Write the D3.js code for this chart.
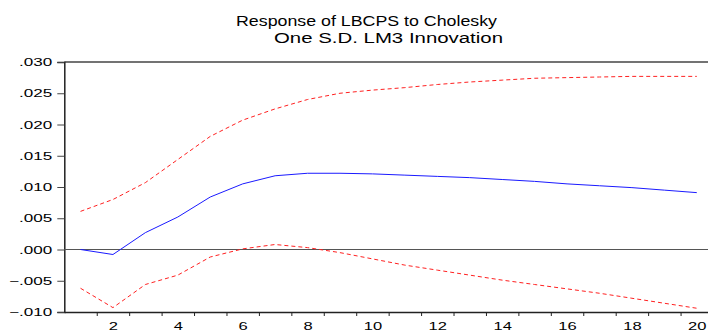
<!DOCTYPE html>
<html>
<head>
<meta charset="utf-8">
<script src="https://cdn.jsdelivr.net/npm/d3@7/dist/d3.min.js"></script>
<style>
  body { margin: 0; background: #fff; }
  svg { display: block; font-family: "Liberation Sans", Arial, sans-serif; }
</style>
</head>
<body>
<div id="chart"></div>
<script>
const periods = d3.range(1, 21);
const response = [0.0000, -0.0008, 0.0027, 0.0052, 0.0084, 0.0105, 0.0118, 0.0122, 0.0122, 0.0121,
  0.0119, 0.0117, 0.0115, 0.0112, 0.0109, 0.0105, 0.0102, 0.0099, 0.0095, 0.0091];
const upper = [0.0061, 0.0080, 0.0107, 0.0144, 0.0181, 0.0207, 0.0225, 0.0240, 0.0250, 0.0255,
  0.0259, 0.0264, 0.0268, 0.0271, 0.0274, 0.0275, 0.0276, 0.0277, 0.0277, 0.0277];
const lower = [-0.0062, -0.0093, -0.0056, -0.0041, -0.0012, 0.0001, 0.0008, 0.0003, -0.0005, -0.0015,
  -0.0025, -0.0033, -0.0041, -0.0049, -0.0056, -0.0063, -0.0070, -0.0078, -0.0086, -0.0094];
const yTicks = [-0.010, -0.005, 0.000, 0.005, 0.010, 0.015, 0.020, 0.025, 0.030];
const xLabels = [2, 4, 6, 8, 10, 12, 14, 16, 18, 20];
const titleLines = ['Response of LBCPS to Cholesky', 'One S.D. LM3 Innovation'];

const W = 708, H = 332;
const PLOT = {left: 64.3, right: 713, top: 62, bottom: 312};
const STRETCH = 1.55; // the reference font is drawn wide

const svg = d3.select('#chart').append('svg')
  .attr('width', W)
  .attr('height', H);

const x = d3.scaleLinear()
  .domain([0.5, 20.5])
  .range([PLOT.left, PLOT.right]);

const y = d3.scaleLinear()
  .domain([-0.010, 0.030])
  .range([PLOT.bottom, PLOT.top]);

function widen(sel, k) {
  sel.each(function() {
    const len = this.getComputedTextLength();
    d3.select(this)
      .attr('textLength', len * k)
      .attr('lengthAdjust', 'spacingAndGlyphs');
  });
}

// title
svg.append('text')
  .attr('x', 236).attr('y', 26)
  .attr('font-size', 15.5)
  .attr('textLength', 261)
  .attr('lengthAdjust', 'spacingAndGlyphs')
  .text(titleLines[0]);
svg.append('text')
  .attr('x', 274).attr('y', 42.5)
  .attr('font-size', 15.5)
  .attr('textLength', 229)
  .attr('lengthAdjust', 'spacingAndGlyphs')
  .text(titleLines[1]);

// frame top
svg.append('line')
  .attr('x1', PLOT.left).attr('x2', W)
  .attr('y1', PLOT.top).attr('y2', PLOT.top)
  .attr('stroke', '#444').attr('stroke-width', 1.5);

// y axis
const fmt = d => d3.format('.3f')(d).replace('0.', '.');
const yAxis = d3.axisLeft(y)
  .tickValues(yTicks)
  .tickFormat(fmt)
  .tickSize(7)
  .tickPadding(5);

const gy = svg.append('g')
  .attr('transform', 'translate(' + PLOT.left + ',0)')
  .call(yAxis);
gy.select('.domain').attr('stroke', '#222').attr('stroke-width', 1.5);
gy.selectAll('.tick line').attr('stroke', '#444');
gy.selectAll('text').attr('font-size', 11).attr('fill', '#000')
  .attr('font-family', '"Liberation Sans", Arial, sans-serif')
  .call(widen, STRETCH);

// x axis: ticks at period boundaries, labels at even periods
const xTickAxis = d3.axisBottom(x)
  .tickValues(d3.range(1.5, 20, 1))
  .tickFormat('')
  .tickSize(4)
  .tickSizeOuter(0);
const gx = svg.append('g')
  .attr('transform', 'translate(0,' + PLOT.bottom + ')')
  .call(xTickAxis);
gx.select('.domain').attr('stroke', '#222').attr('stroke-width', 1.5);
gx.selectAll('.tick line').attr('stroke', '#222');

const xLabelAxis = d3.axisBottom(x)
  .tickValues(xLabels)
  .tickSize(0)
  .tickPadding(10);
const gxl = svg.append('g')
  .attr('transform', 'translate(0,' + PLOT.bottom + ')')
  .call(xLabelAxis);
gxl.select('.domain').remove();
gxl.selectAll('text').attr('font-size', 11).attr('fill', '#000')
  .attr('font-family', '"Liberation Sans", Arial, sans-serif')
  .call(widen, 1.5);

// zero line
svg.append('line')
  .attr('x1', PLOT.left).attr('x2', W)
  .attr('y1', y(0)).attr('y2', y(0))
  .attr('stroke', '#555').attr('stroke-width', 1);

const line = d3.line()
  .x((d, i) => x(periods[i]))
  .y(d => y(d));

svg.append('path')
  .datum(upper)
  .attr('fill', 'none')
  .attr('stroke', '#ff2020')
  .attr('stroke-width', 1)
  .attr('stroke-dasharray', '4,3')
  .attr('d', line);

svg.append('path')
  .datum(lower)
  .attr('fill', 'none')
  .attr('stroke', '#ff2020')
  .attr('stroke-width', 1)
  .attr('stroke-dasharray', '4,3')
  .attr('d', line);

svg.append('path')
  .datum(response)
  .attr('fill', 'none')
  .attr('stroke', '#1a1aff')
  .attr('stroke-width', 1)
  .attr('d', line);
</script>
</body>
</html>
